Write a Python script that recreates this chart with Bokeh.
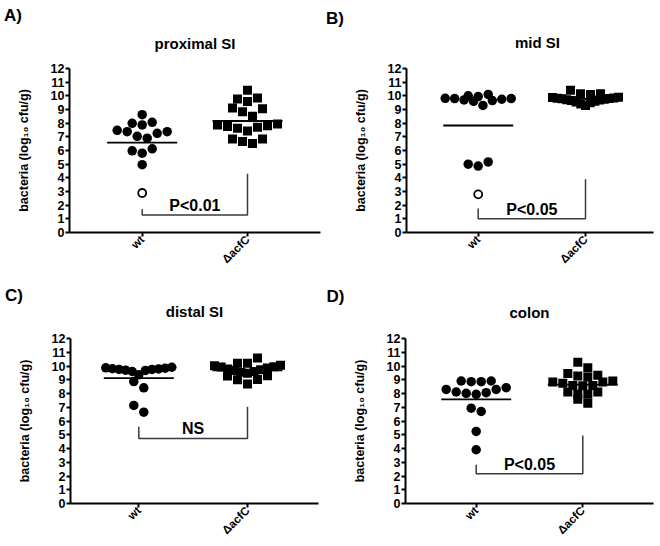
import math
from bokeh.plotting import figure
from bokeh.models import Range1d, FixedTicker, Title
from bokeh.layouts import column, row
from bokeh.embed import file_html
from bokeh.resources import INLINE
from bokeh.core.properties import value

# ---------------- data ----------------
groups = ["wt", "ΔacfC"]
panel_titles = ["proximal SI", "mid SI", "distal SI", "colon"]
panel_letters = ["A)", "B)", "C)", "D)"]
y_ticks = list(range(13))
y_label = "bacteria (log\u2081\u2080 cfu/g)"

prox_wt = [8.62, 8.06, 7.87, 7.99, 7.48, 7.38, 7.04, 6.90, 7.26, 7.38, 6.12, 5.80, 5.98, 4.96]
prox_wt_open = [2.89]
prox_ko = [10.40, 9.76, 9.59, 9.84, 9.06, 8.50, 8.84, 9.11, 7.87, 7.75, 7.62, 7.43,
           7.70, 7.82, 7.94, 6.85, 6.51, 6.65, 6.85]
prox_means = [6.58, 8.16]
prox_bracket = [1.70, 1.28, 4.30]
prox_p = "P<0.01"

mid_wt = [9.30, 9.60, 9.65, 9.70, 9.75, 9.80, 9.80, 9.82, 9.95, 10.00, 10.10, 4.86, 5.00, 5.16]
mid_wt_open = [2.79]
mid_ko = [10.40, 10.15, 10.15, 10.10, 9.30, 9.40, 9.50, 9.55, 9.60, 9.65, 9.70, 9.72,
          9.75, 9.78, 9.80, 9.82, 9.85, 9.88, 9.90]
mid_means = [7.83, 9.78]
mid_bracket = [1.75, 1.00, 3.90]
mid_p = "P<0.05"

dist_wt = [9.91, 9.84, 9.79, 9.75, 9.68, 9.36, 9.60, 9.70, 9.75, 9.80, 9.87, 8.87, 8.41, 7.13, 6.64]
dist_wt_open = []
dist_ko = [10.58, 10.20, 10.20, 9.48, 9.55, 9.60, 9.67, 9.72, 9.79, 9.86, 9.92, 9.95,
           10.02, 10.06, 8.70, 9.00, 9.02, 9.28, 9.30]
dist_means = [9.12, 9.68]
dist_bracket = [5.58, 4.73, 7.03]
dist_p = "NS"

colon_wt = [8.86, 8.86, 8.91, 8.91, 8.30, 8.11, 8.01, 7.94, 8.06, 8.30, 8.42, 6.69, 6.93, 5.24, 3.91]
colon_wt_open = []
colon_ko = [10.28, 9.87, 9.46, 9.32, 9.27, 9.20, 8.91, 8.83, 8.83, 8.74, 8.59, 8.59,
            8.57, 8.11, 8.11, 7.94, 7.94, 7.58, 7.29]
colon_means = [7.58, 8.65]
colon_bracket = [2.82, 2.17, 4.95]
colon_p = "P<0.05"

# ---------------- layout (page pixels) ----------------
FIG_H = 273
GEO = [
    dict(ox=0, oy=0, w=325, left=69, right=5, top=68, bottom=41, wt_px=141.7, ko_px=247.0,
         title_x=None, title_base=48.0, letter_x=3.5, letter_base=21.7),
    dict(ox=325, oy=0, w=335, left=81, right=7, top=64, bottom=41, wt_px=477.7, ko_px=585.0,
         title_x=514.5, title_base=43.5, letter_x=325.5, letter_base=21.0),
    dict(ox=0, oy=273, w=325, left=70, right=7, top=65, bottom=43, wt_px=138.3, ko_px=247.0,
         title_x=None, title_base=316.5, letter_x=4.5, letter_base=301.3),
    dict(ox=325, oy=273, w=335, left=80, right=7, top=64, bottom=43, wt_px=475.7, ko_px=582.3,
         title_x=None, title_base=316.0, letter_x=326.0, letter_base=301.3),
]
FONT = "Liberation Sans"
TITLE_PX = 15
LETTER_PX = 17
ASC, DESC = 0.905, 0.212


def swarm(vals, ppu, row_h=0.62, step_px=10.0, max_half_px=33.0):
    """GraphPad-like scatter: group close values into rows, spread each row."""
    order = sorted(range(len(vals)), key=lambda i: vals[i])
    rows = []
    for i in order:
        if rows and vals[i] - vals[rows[-1][0]] < row_h:
            rows[-1].append(i)
        else:
            rows.append([i])
    offs = [0.0] * len(vals)
    for r in rows:
        n = len(r)
        step = min(step_px, 2 * max_half_px / (n - 1)) if n > 1 else 0.0
        slots = [(k - (n - 1) / 2) * step for k in range(n)]
        if n % 2 == 0:
            slots.sort(key=lambda s: (abs(s), -s))
        else:
            slots.sort(key=lambda s: (abs(s), s))
        for idx, s in zip(r, slots):
            offs[idx] = s / ppu
    return offs


def make_panel(g, title, letter, wt, wt_open, ko, means, bracket, ptext):
    fl = g["ox"] + g["left"]
    ft = g["oy"] + g["top"]
    fw = g["w"] - g["left"] - g["right"]
    fh = FIG_H - g["top"] - g["bottom"]
    ppu = g["ko_px"] - g["wt_px"]
    xs = -(g["wt_px"] - fl) / ppu
    xe = xs + fw / ppu
    ppy = fh / 12.0

    p = figure(width=g["w"], height=FIG_H, output_backend="svg", toolbar_location=None,
               title_location=None, x_range=Range1d(xs, xe), y_range=Range1d(0, 12),
               min_border_left=g["left"], min_border_right=g["right"],
               min_border_top=g["top"], min_border_bottom=g["bottom"])
    p.outline_line_color = None
    p.xgrid.visible = False
    p.ygrid.visible = False
    p.background_fill_color = "white"
    p.border_fill_color = "white"

    # axes
    p.xaxis.ticker = FixedTicker(ticks=[0, 1])
    p.xaxis.major_label_overrides = {0: groups[0], 1: groups[1]}
    p.xaxis.major_label_orientation = math.pi / 4
    p.xaxis.major_label_text_font_size = "11.5px"
    p.yaxis.ticker = FixedTicker(ticks=y_ticks)
    p.yaxis.major_label_text_font_size = "12.5px"
    for ax in (p.xaxis, p.yaxis):
        ax.minor_tick_line_color = None
        ax.axis_line_width = 2
        ax.axis_line_color = "black"
        ax.major_tick_line_width = 2
        ax.major_tick_line_color = "black"
        ax.major_tick_in = 0
        ax.major_tick_out = 4
        ax.major_label_standoff = 1
        ax.major_label_text_font = FONT
        ax.major_label_text_font_style = "bold"
        ax.major_label_text_color = "black"
    p.yaxis.axis_label = y_label
    p.yaxis.axis_label_text_font = FONT
    p.yaxis.axis_label_text_font_style = "bold"
    p.yaxis.axis_label_text_font_size = "12.5px"
    p.yaxis.axis_label_text_color = "black"
    p.yaxis.axis_label_standoff = 17

    # mean lines
    hw = 35.0 / ppu
    p.segment(x0=[0 - hw, 1 - hw], y0=means, x1=[0 + hw, 1 + hw], y1=means,
              line_color="black", line_width=1.8)

    # points
    wo = swarm(wt, ppu)
    p.scatter([0 + o for o in wo], wt, marker="circle", size=9.5,
              fill_color="black", line_color=None)
    ko_off = swarm(ko, ppu)
    p.scatter([1 + o for o in ko_off], ko, marker="square", size=9,
              fill_color="black", line_color=None)
    if wt_open:
        p.scatter([0] * len(wt_open), wt_open, marker="circle", size=8,
                  fill_color="white", line_color="black", line_width=1.8)

    # significance bracket
    p.line(x=[0, 0, 1, 1], y=[bracket[0], bracket[1], bracket[1], bracket[2]],
           line_color="#3a3a3a", line_width=1.5)
    p.text(x=[0.5], y=[bracket[1] + 9.5 / ppy], text=[ptext], text_font=value(FONT),
           text_font_style="bold", text_font_size="16px", text_align="center",
           text_baseline="middle", text_color="black")

    # title (closest to frame) and panel letter (above it)
    gap_t = ft - g["title_base"] - DESC * TITLE_PX
    s1 = 2 * gap_t
    size1 = 2 + (ASC + DESC) * TITLE_PX + s1
    if g["title_x"] is None:
        t1 = Title(text=title, align="center", standoff=s1)
    else:
        t1 = Title(text=title, align="left", offset=g["title_x"] - fl, standoff=s1)
    t1.text_font = FONT
    t1.text_font_style = "bold"
    t1.text_font_size = f"{TITLE_PX}px"
    t1.text_color = "black"
    t1.vertical_align = "bottom"
    p.add_layout(t1, "above")

    gap_l = ft - g["letter_base"] - DESC * LETTER_PX
    s2 = 2 * (gap_l - size1)
    t2 = Title(text=letter, align="left", offset=g["letter_x"] - fl, standoff=s2)
    t2.text_font = FONT
    t2.text_font_style = "bold"
    t2.text_font_size = f"{LETTER_PX}px"
    t2.text_color = "black"
    t2.vertical_align = "bottom"
    p.add_layout(t2, "above")
    return p


pa = make_panel(GEO[0], panel_titles[0], panel_letters[0], prox_wt, prox_wt_open, prox_ko,
                prox_means, prox_bracket, prox_p)
pb = make_panel(GEO[1], panel_titles[1], panel_letters[1], mid_wt, mid_wt_open, mid_ko,
                mid_means, mid_bracket, mid_p)
pc = make_panel(GEO[2], panel_titles[2], panel_letters[2], dist_wt, dist_wt_open, dist_ko,
                dist_means, dist_bracket, dist_p)
pd = make_panel(GEO[3], panel_titles[3], panel_letters[3], colon_wt, colon_wt_open, colon_ko,
                colon_means, colon_bracket, colon_p)

layout = column(row(pa, pb), row(pc, pd))
open("out.html", "w").write(file_html(layout, INLINE))
